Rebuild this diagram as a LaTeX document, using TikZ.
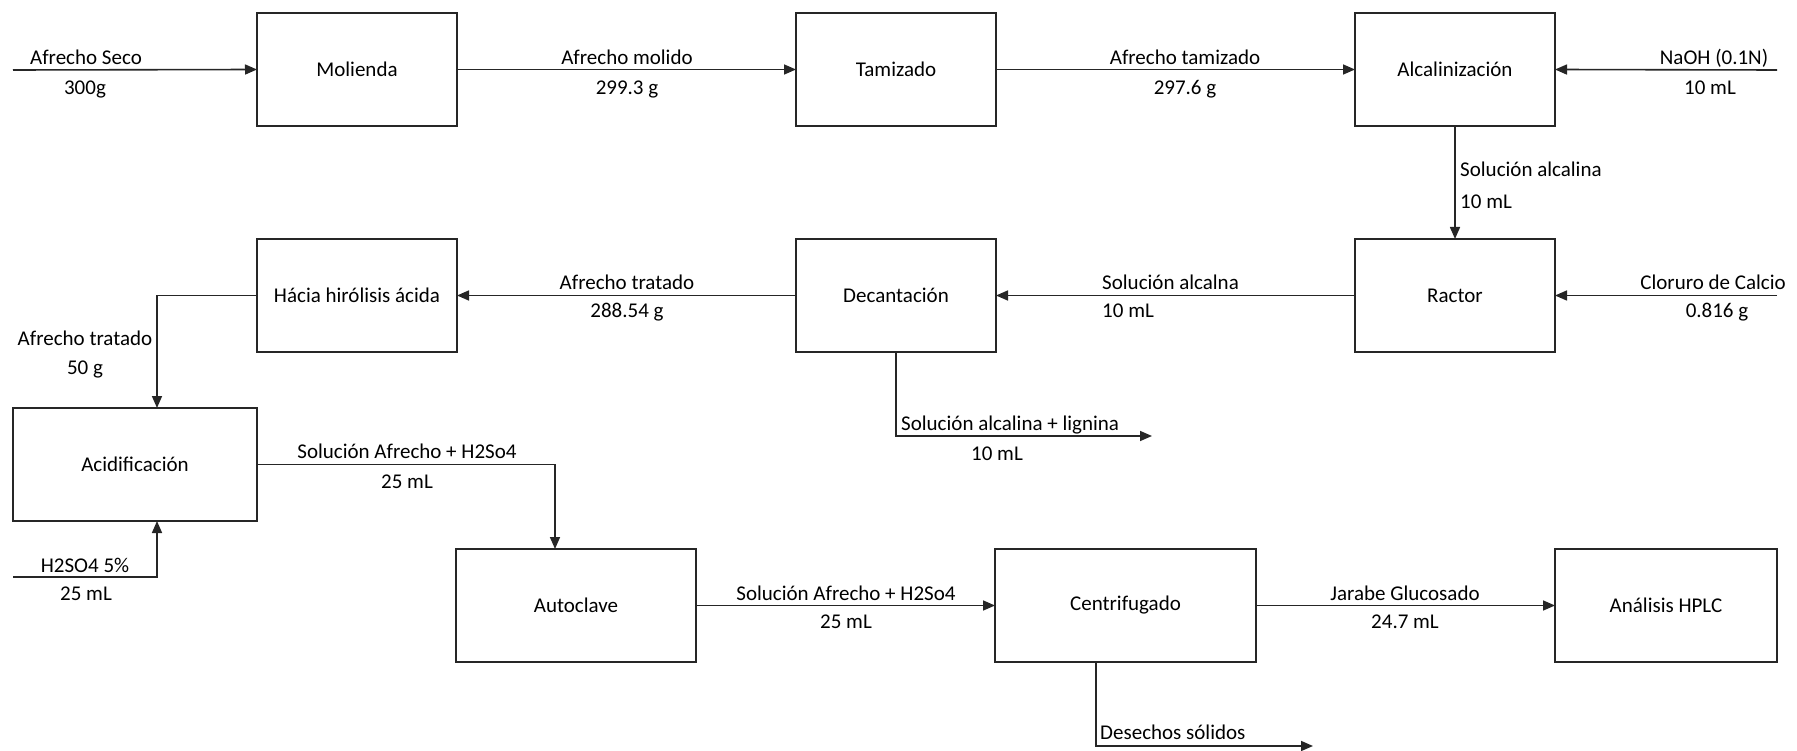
\documentclass[tikz,border=0pt]{standalone}
\usepackage{fontspec}
\setmainfont{Carlito}
\usetikzlibrary{arrows.meta}
\begin{document}
\begin{tikzpicture}[x=1pt,y=-1pt,
  box/.style={draw=black!85, line width=1.5pt, inner sep=0pt, outer sep=0pt,
    font=\fontsize{21}{25}\selectfont},
  flow/.style={draw=black!85, line width=1.6pt, -{Triangle[length=12pt,width=10pt]}},
  plain/.style={draw=black!85, line width=1.6pt},
  lbl/.style={inner sep=0pt, anchor=base, font=\fontsize{21}{25}\selectfont},
  lbll/.style={lbl, anchor=base west},
  lblr/.style={lbl, anchor=base east}]
\useasboundingbox (0,0) rectangle (1797,751);
% boxes
\node[box, minimum width=200pt, minimum height=113pt] (mol) at (357,69.5) {Molienda};
\node[box, minimum width=200pt, minimum height=113pt] (tam) at (896,69.5) {Tamizado};
\node[box, minimum width=200pt, minimum height=113pt] (alc) at (1455,69.5) {Alcalinización};
\node[box, minimum width=200pt, minimum height=113pt] (rac) at (1455,295.5) {Ractor};
\node[box, minimum width=200pt, minimum height=113pt] (dec) at (896,295.5) {Decantación};
\node[box, minimum width=200pt, minimum height=113pt] (hac) at (357,295.5) {Hácia hirólisis ácida};
\node[box, minimum width=244pt, minimum height=113pt] (aci) at (135,464.5) {Acidificación};
\node[box, minimum width=240pt, minimum height=113pt] (aut) at (576,605.5) {Autoclave};
\node[box, minimum width=261pt, minimum height=113pt] (cen) at (1125.5,605.5) {Centrifugado};
\node[box, minimum width=222pt, minimum height=113pt] (hplc) at (1666,605.5) {Análisis HPLC};
% free ends and corners
\coordinate (in1) at (13,70);
\coordinate (naoh) at (1777,70);
\coordinate (clo) at (1777,295.5);
\coordinate (k1) at (157,295.5);
\coordinate (k2) at (555,464.5);
\coordinate (h2) at (13,577);
\coordinate (w1) at (1152,436);
\coordinate (cs) at (1096,662);
\coordinate (w2) at (1313,746);
% connectors
\draw[flow] (in1) -- (mol.west);
\draw[flow] (mol.east) -- (tam.west);
\draw[flow] (tam.east) -- (alc.west);
\draw[flow] (naoh) -- (alc.east);
\draw[flow] (alc.south) -- (rac.north);
\draw[flow] (clo) -- (rac.east);
\draw[flow] (rac.west) -- (dec.east);
\draw[flow] (dec.west) -- (hac.east);
\draw[flow] (hac.west) -- (k1) -- (k1 |- aci.north);
\draw[flow] (dec.south) |- (w1);
\draw[flow] (aci.east) -- (k2) -- (k2 |- aut.north);
\draw[flow] (h2) -| (k1 |- aci.south);
\draw[flow] (aut.east) -- (cen.west);
\draw[flow] (cen.east) -- (hplc.west);
\draw[flow] (cs) |- (w2);
% labels
\node[lbl] at (86,65) {Afrecho Seco};
\node[lbl] at (85,95) {300g};
\node[lbl] at (627,65) {Afrecho molido};
\node[lbl] at (627,95) {299.3 g};
\node[lbl] at (1185,65) {Afrecho tamizado};
\node[lbl] at (1185,95) {297.6 g};
\node[lbl] at (1714,65) {NaOH (0.1N)};
\node[lbl] at (1710,95) {10 mL};
\node[lbll] at (1460,177) {Solución alcalina};
\node[lbll] at (1460,209) {10 mL};
\node[lbl] at (1713,290) {Cloruro de Calcio};
\node[lbl] at (1717,318) {0.816 g};
\node[lbll] at (1102,290) {Solución alcalna};
\node[lbll] at (1102,318) {10 mL};
\node[lbl] at (627,290) {Afrecho tratado};
\node[lbl] at (627,318) {288.54 g};
\node[lbl] at (85,346) {Afrecho tratado};
\node[lbl] at (85,374) {50 g};
\node[lbll] at (901,430) {Solución alcalina + lignina};
\node[lbl] at (997,460) {10 mL};
\node[lbl] at (407,458) {Solución Afrecho + H2So4};
\node[lbl] at (407,488) {25 mL};
\node[lbl] at (85,572) {H2SO4 5\%};
\node[lbl] at (86,600) {25 mL};
\node[lbl] at (846,600) {Solución Afrecho + H2So4};
\node[lbl] at (846,628) {25 mL};
\node[lbl] at (1405,600) {Jarabe Glucosado};
\node[lbl] at (1405,628) {24.7 mL};
\node[lbll] at (1100,739) {Desechos sólidos};
\end{tikzpicture}
\end{document}
